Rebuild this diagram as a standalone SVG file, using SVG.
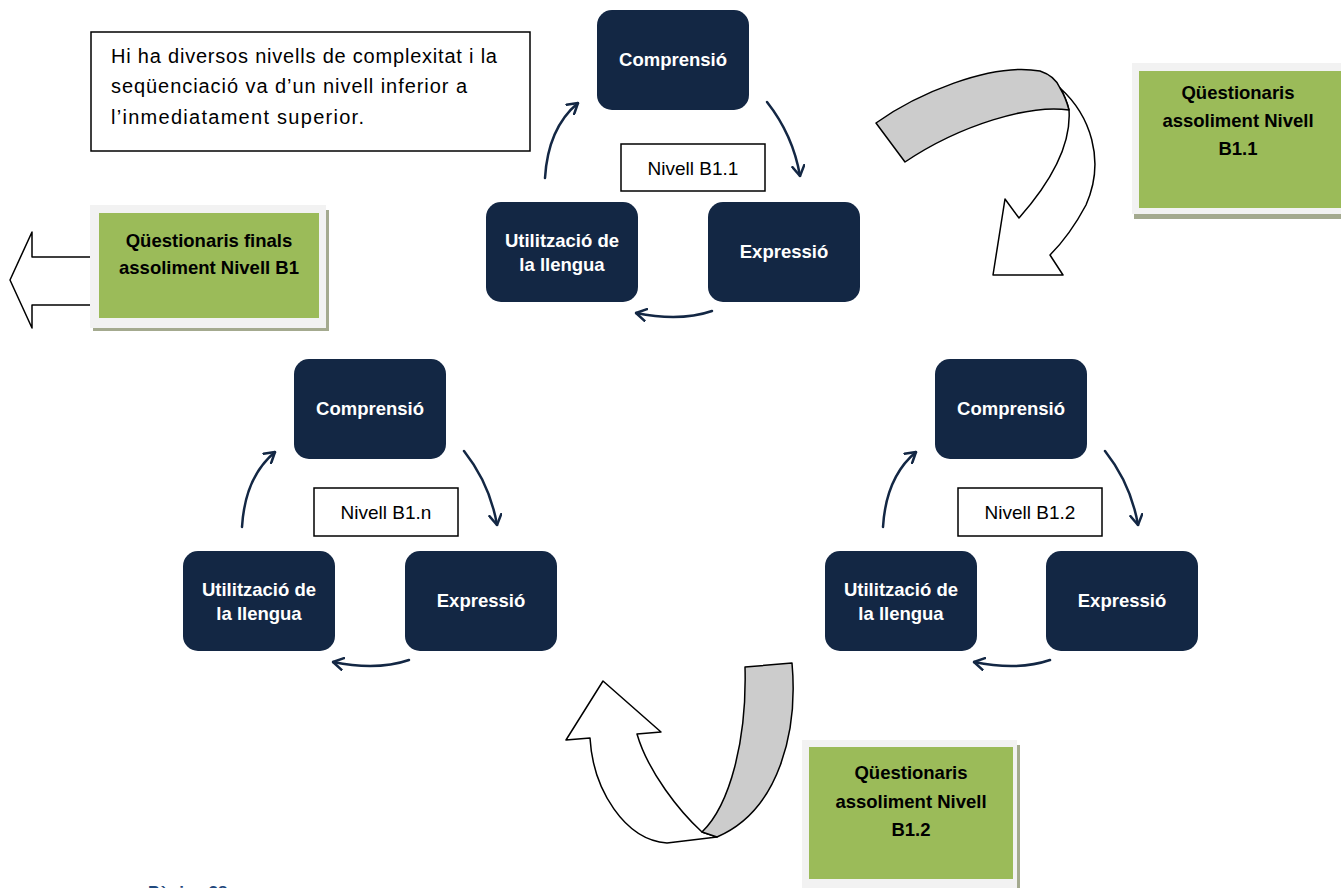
<svg xmlns="http://www.w3.org/2000/svg" width="1341" height="888" viewBox="0 0 1341 888">
<defs>
<style>
.node{fill:#132744;}
.nt{font-family:"Liberation Sans",Arial,sans-serif;font-weight:bold;font-size:18.5px;fill:#ffffff;text-anchor:middle;}
.lbl{fill:#ffffff;stroke:#000000;stroke-width:1.5;}
.lt{font-family:"Liberation Sans",Arial,sans-serif;font-size:19px;fill:#000000;text-anchor:middle;}
.conn{fill:none;stroke:#132744;stroke-width:2.5;stroke-linecap:round;}
.frame{fill:#f2f2f2;}
.shadow{fill:#a4aa8f;}
.green{fill:#9bbb59;}
.gt{font-family:"Liberation Sans",Arial,sans-serif;font-weight:bold;font-size:18.5px;fill:#000000;text-anchor:middle;}
.big{stroke:#000000;stroke-width:1.5;stroke-linejoin:round;}
.note{font-family:"Liberation Sans",Arial,sans-serif;font-size:20px;fill:#000000;}
</style>
<marker id="ah" viewBox="0 0 12 14" refX="11" refY="7" markerWidth="12" markerHeight="14" markerUnits="userSpaceOnUse" orient="auto">
<path d="M1,1 L11,7 L1,13" fill="none" stroke="#132744" stroke-width="2.5" stroke-linecap="round" stroke-linejoin="round"/>
</marker>
</defs>
<rect width="1341" height="888" fill="#ffffff"/>

<!-- big curved arrows -->
<g id="bigarrow-top">
<path class="big" fill="#ffffff" d="M1060,88 C1090,115 1106,160 1086,205 Q1070,235 1050,255 L1063,275 L993,275 L1005,199 L1019,218 C1042,192 1072,152 1069,110 Q1066,98 1060,88 Z"/>
<path class="big" fill="#cccccc" d="M876,123 C915,95 990,62 1040,71 Q1055,76 1060,88 Q1066,98 1069,110 C1030,104 960,125 905,162 Z"/>
</g>
<g id="bigarrow-bottom">
<path class="big" fill="#ffffff" d="M702,832 C680,812 648,772 637,734 L661,732 L603,681 L566,740 L590,738 C593,790 625,840 667,843 L717,837 Z"/>
<path class="big" fill="#cccccc" d="M745,667 L792,663 C798,730 780,810 717,837 L702,832 C730,805 747,740 745,667 Z"/>
</g>
<g id="arrow-left">
<path class="big" fill="#ffffff" d="M100,257 L32,257 L32,232 L10,280 L32,328 L32,305 L100,305"/>
</g>

<!-- note box -->
<g id="note">
<rect x="91" y="32" width="439" height="119" fill="#ffffff" stroke="#000000" stroke-width="1.5"/>
<text class="note" x="111" y="63" textLength="386" lengthAdjust="spacing">Hi ha diversos nivells de complexitat i la</text>
<text class="note" x="111" y="93" textLength="356" lengthAdjust="spacing">seqüenciació va d’un nivell inferior a</text>
<text class="note" x="111" y="124" textLength="253" lengthAdjust="spacing">l’inmediatament superior.</text>
</g>

<!-- green boxes -->
<g id="q-b11">
<rect class="shadow" x="1134" y="210" width="207" height="9"/>
<rect class="frame" x="1132" y="63" width="209" height="151"/>
<rect class="green" x="1139" y="71" width="202" height="137"/>
<text class="gt" x="1238" y="99">Qüestionaris</text>
<text class="gt" x="1238" y="127">assoliment Nivell</text>
<text class="gt" x="1238" y="155">B1.1</text>
</g>
<g id="q-final">
<rect class="shadow" x="93" y="210" width="236" height="121"/>
<rect class="frame" x="90" y="205" width="236" height="123"/>
<rect class="green" x="99" y="213" width="220" height="105"/>
<text class="gt" x="209" y="247">Qüestionaris finals</text>
<text class="gt" x="209" y="274">assoliment Nivell B1</text>
</g>
<g id="q-b12">
<rect class="shadow" x="806" y="745" width="214" height="143"/>
<rect class="frame" x="802" y="740" width="215" height="148"/>
<rect class="green" x="809" y="747" width="204" height="132"/>
<text class="gt" x="911" y="779">Qüestionaris</text>
<text class="gt" x="911" y="808">assoliment Nivell</text>
<text class="gt" x="911" y="836">B1.2</text>
</g>

<!-- connectors -->
<g id="connectors">
<g transform="translate(0,0)">
<path class="conn" d="M767,102 Q793,135 800,176" marker-end="url(#ah)"/>
<path class="conn" d="M712,311 Q680,322 636,313" marker-end="url(#ah)"/>
<path class="conn" d="M545,178 Q548,128 578,103" marker-end="url(#ah)"/>
</g>
<g transform="translate(-303,349)">
<path class="conn" d="M767,102 Q793,135 800,176" marker-end="url(#ah)"/>
<path class="conn" d="M712,311 Q680,322 636,313" marker-end="url(#ah)"/>
<path class="conn" d="M545,178 Q548,128 578,103" marker-end="url(#ah)"/>
</g>
<g transform="translate(338,349)">
<path class="conn" d="M767,102 Q793,135 800,176" marker-end="url(#ah)"/>
<path class="conn" d="M712,311 Q680,322 636,313" marker-end="url(#ah)"/>
<path class="conn" d="M545,178 Q548,128 578,103" marker-end="url(#ah)"/>
</g>
</g>

<!-- cycle B1.1 -->
<g id="c1-comprensio"><rect class="node" x="597" y="10" width="152" height="100" rx="15"/><text class="nt" x="673" y="66">Comprensió</text></g>
<g id="c1-expressio"><rect class="node" x="708" y="202" width="152" height="100" rx="15"/><text class="nt" x="784" y="258">Expressió</text></g>
<g id="c1-utilitzacio"><rect class="node" x="486" y="202" width="152" height="100" rx="15"/><text class="nt" x="562" y="247">Utilització de</text><text class="nt" x="562" y="271">la llengua</text></g>
<g id="c1-label"><rect class="lbl" x="621" y="144" width="144" height="47"/><text class="lt" x="693" y="175">Nivell B1.1</text></g>

<!-- cycle B1.n -->
<g id="cn-comprensio"><rect class="node" x="294" y="359" width="152" height="100" rx="15"/><text class="nt" x="370" y="415">Comprensió</text></g>
<g id="cn-expressio"><rect class="node" x="405" y="551" width="152" height="100" rx="15"/><text class="nt" x="481" y="607">Expressió</text></g>
<g id="cn-utilitzacio"><rect class="node" x="183" y="551" width="152" height="100" rx="15"/><text class="nt" x="259" y="596">Utilització de</text><text class="nt" x="259" y="620">la llengua</text></g>
<g id="cn-label"><rect class="lbl" x="314" y="488" width="144" height="48"/><text class="lt" x="386" y="519">Nivell B1.n</text></g>

<!-- cycle B1.2 -->
<g id="c2-comprensio"><rect class="node" x="935" y="359" width="152" height="100" rx="15"/><text class="nt" x="1011" y="415">Comprensió</text></g>
<g id="c2-expressio"><rect class="node" x="1046" y="551" width="152" height="100" rx="15"/><text class="nt" x="1122" y="607">Expressió</text></g>
<g id="c2-utilitzacio"><rect class="node" x="825" y="551" width="152" height="100" rx="15"/><text class="nt" x="901" y="596">Utilització de</text><text class="nt" x="901" y="620">la llengua</text></g>
<g id="c2-label"><rect class="lbl" x="958" y="488" width="144" height="48"/><text class="lt" x="1030" y="519">Nivell B1.2</text></g>

<text x="148" y="898" font-family="Liberation Sans,Arial,sans-serif" font-weight="bold" font-size="17" fill="#1f497d">Pàgina 38</text>
</svg>
